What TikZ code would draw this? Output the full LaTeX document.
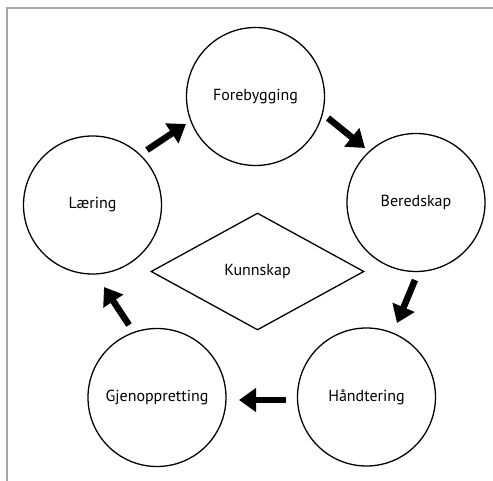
\documentclass[tikz,border=0pt]{standalone}
\usepackage{fontspec}
\setmainfont{PT Sans}
\usetikzlibrary{arrows.meta,shapes.geometric}
\begin{document}
\begin{tikzpicture}[x=1pt,y=-1pt,
  phase/.style={draw,circle,line width=1.3pt,minimum size=138pt,inner sep=0pt,font=\fontsize{16}{18}\selectfont},
  core/.style={draw,diamond,line width=1.3pt,minimum width=213pt,minimum height=117pt,aspect=1.8,inner sep=0pt,font=\fontsize{16}{18}\selectfont},
  flow/.style={line width=6.5pt,-{Triangle[length=17pt,width=23pt]}},
  frameline/.style={draw=gray!70,line width=2pt}]
\useasboundingbox (0,0) rectangle (493,481);
\draw[frameline] (7,481) -- (7,8) -- (493,8);
\node[phase] (fore) at (255.5,96.5) {Forebygging};
\node[phase] (bere) at (416,202.5) {Beredskap};
\node[phase] (laer) at (92.5,205) {Læring};
\node[phase] (hand) at (366.5,397) {Håndtering};
\node[phase] (gjen) at (157,397.5) {Gjenoppretting};
\node[core] (kunn) at (257.5,271.5) {Kunnskap};
\coordinate (a1s) at (147,150); \coordinate (a1e) at (186,124);
\coordinate (a2s) at (328,118); \coordinate (a2e) at (365,148);
\coordinate (a3s) at (415,280); \coordinate (a3e) at (397,323);
\coordinate (a4s) at (286,400); \coordinate (a4e) at (239,400);
\coordinate (a5s) at (129,325); \coordinate (a5e) at (104,287);
\draw[flow] (a1s) -- (a1e);
\draw[flow] (a2s) -- (a2e);
\draw[flow] (a3s) -- (a3e);
\draw[flow] (a4s) -- (a4e);
\draw[flow] (a5s) -- (a5e);
\end{tikzpicture}
\end{document}
